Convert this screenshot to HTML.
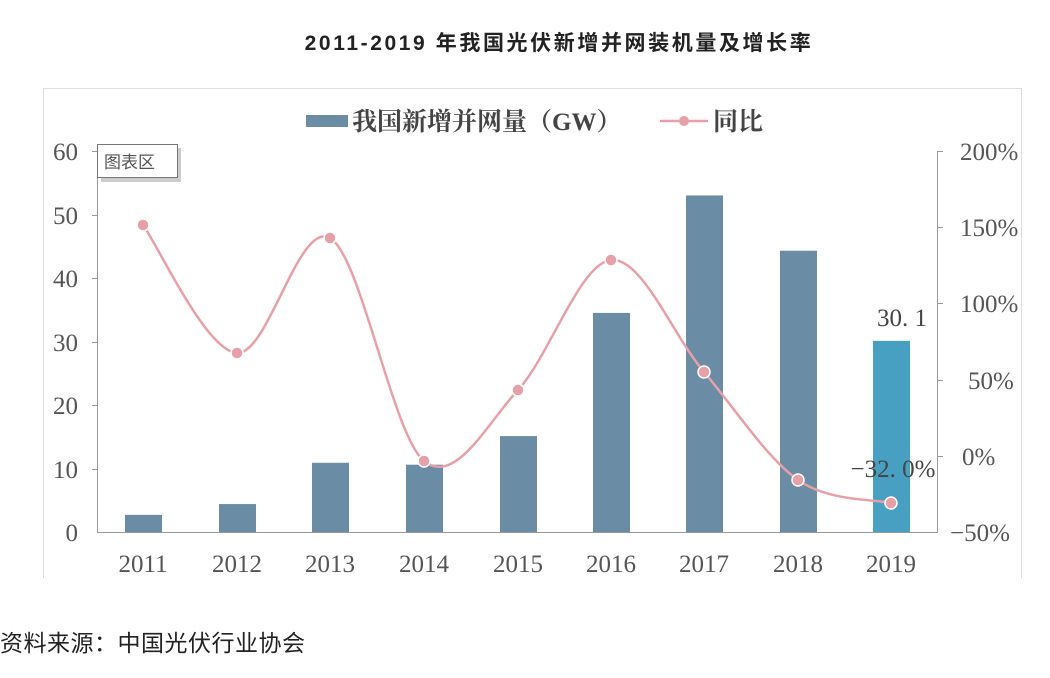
<!DOCTYPE html>
<html><head><meta charset="utf-8"><style>
html,body{margin:0;padding:0;background:#fff;width:1050px;height:678px;overflow:hidden}
svg{display:block}
text{font-family:"Liberation Serif","Noto Serif CJK SC",serif}
</style></head><body>
<svg width="1050" height="678" viewBox="0 0 1050 678">
<text x="559" y="50" text-anchor="middle" font-size="21" font-weight="bold" fill="#222" letter-spacing="2.6" style="font-family:'Liberation Sans','Noto Sans CJK SC',sans-serif">2011-2019 年我国光伏新增并网装机量及增长率</text>
<rect x="43.5" y="88.5" width="978" height="492" fill="#fff" stroke="#ddd"/>
<rect x="0" y="578" width="1050" height="100" fill="#fff"/>
<rect x="306" y="115" width="42" height="12" fill="#6a8ca5"/>
<text x="352" y="130" font-size="25" fill="#444" font-weight="bold">我国新增并网量（GW）</text>
<line x1="660" y1="121" x2="708" y2="121" stroke="#e8a0a8" stroke-width="2.5"/>
<circle cx="684" cy="121" r="5" fill="#e8a0a8"/>
<text x="713" y="130" font-size="25" fill="#444" font-weight="bold">同比</text>
<line x1="97.5" y1="151" x2="97.5" y2="532" stroke="#999"/>
<line x1="97" y1="532.5" x2="938" y2="532.5" stroke="#999"/>
<line x1="937.5" y1="151" x2="937.5" y2="532" stroke="#999"/>
<g stroke="#999"><line x1="92" y1="151.5" x2="97" y2="151.5"/><line x1="92" y1="215.5" x2="97" y2="215.5"/><line x1="92" y1="278.5" x2="97" y2="278.5"/><line x1="92" y1="342.5" x2="97" y2="342.5"/><line x1="92" y1="405.5" x2="97" y2="405.5"/><line x1="92" y1="469.5" x2="97" y2="469.5"/>
<line x1="938" y1="151.5" x2="943" y2="151.5"/><line x1="938" y1="227.5" x2="943" y2="227.5"/><line x1="938" y1="303.5" x2="943" y2="303.5"/><line x1="938" y1="380.5" x2="943" y2="380.5"/><line x1="938" y1="456.5" x2="943" y2="456.5"/></g>
<g font-size="25" fill="#555" text-anchor="end">
<text x="78" y="160">60</text><text x="78" y="224">50</text><text x="78" y="287">40</text><text x="78" y="351">30</text><text x="78" y="414">20</text><text x="78" y="478">10</text><text x="78" y="541">0</text></g>
<g font-size="25" fill="#555">
<text x="960" y="160">200%</text><text x="960" y="236">150%</text><text x="960" y="312">100%</text><text x="968" y="389">50%</text><text x="962" y="465">0%</text><text x="950" y="541">−50%</text></g>
<g font-size="25" fill="#555" text-anchor="middle">
<text x="143" y="572">2011</text><text x="237" y="572">2012</text><text x="330" y="572">2013</text><text x="424" y="572">2014</text><text x="518" y="572">2015</text><text x="611" y="572">2016</text><text x="704" y="572">2017</text><text x="798" y="572">2018</text><text x="891" y="572">2019</text></g>
<rect x="101" y="148" width="80" height="34" fill="#aaa" opacity="0.6"/>
<rect x="97.5" y="144.5" width="80" height="33" fill="#fff" stroke="#777"/>
<text x="104" y="168" font-size="17" fill="#555" style="font-family:'Noto Sans CJK SC',sans-serif">图表区</text>
<g id="bars" fill="#6a8ca5"></g>
<path id="ln" fill="none" stroke="#e8a0a8" stroke-width="2.5"/>
<g id="pts" fill="#e8a0a8" stroke="#fff" stroke-width="1.5"></g>
<text x="902" y="326" font-size="25" fill="#444" text-anchor="middle">30. 1</text>
<text x="893" y="477" font-size="25" fill="#444" text-anchor="middle">−32. 0%</text>
<text x="0" y="651" font-size="23" fill="#222" letter-spacing="0.5" style="font-family:'Liberation Sans','Noto Sans CJK SC',sans-serif">资料来源：中国光伏行业协会</text>
</svg>
<script>
var xs=[143,237,330,424,518,611,704,798,891],v=[2.7,4.4,10.9,10.6,15.1,34.5,53,44.3,30.1];
var py=[225,353,238,461,390,260,372,480,503];
var b=document.getElementById('bars'),s='';
for(var i=0;i<9;i++){var h=v[i]*6.35;s+='<rect x="'+(xs[i]-18)+'" y="'+(532-h)+'" width="37" height="'+h+'" fill="'+(i==8?'#479fc1':'#6a8ca5')+'"/>';}
b.innerHTML=s;
var d='M'+xs[0]+','+py[0];
for(var i=0;i<8;i++){var x0=xs[Math.max(i-1,0)],y0=py[Math.max(i-1,0)],x3=xs[Math.min(i+2,8)],y3=py[Math.min(i+2,8)];
var c1x=xs[i]+(xs[i+1]-x0)/6,c1y=py[i]+(py[i+1]-y0)/6,c2x=xs[i+1]-(x3-xs[i])/6,c2y=py[i+1]-(y3-py[i])/6;
d+=' C'+c1x+','+c1y+' '+c2x+','+c2y+' '+xs[i+1]+','+py[i+1];}
document.getElementById('ln').setAttribute('d',d);
var p='';for(var i=0;i<9;i++)p+='<circle cx="'+xs[i]+'" cy="'+py[i]+'" r="6"/>';
document.getElementById('pts').innerHTML=p;
</script>
</body></html>
